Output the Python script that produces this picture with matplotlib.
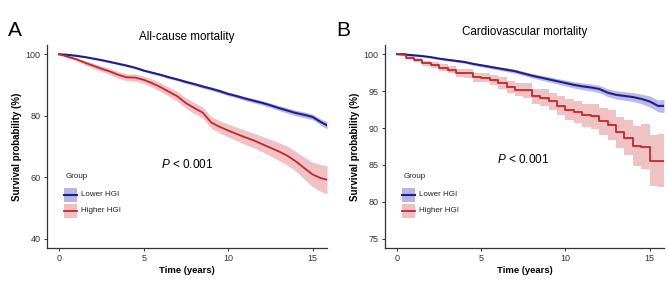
import matplotlib
matplotlib.use("Agg")
import matplotlib.pyplot as plt
from matplotlib.patches import Rectangle
from matplotlib.lines import Line2D
import numpy as np

plt.rcParams['font.family'] = ['Liberation Sans', 'DejaVu Sans']
plt.rcParams['mathtext.fontset'] = 'custom'
plt.rcParams['mathtext.it'] = 'Liberation Sans:italic'
plt.rcParams['mathtext.rm'] = 'Liberation Sans'

# ---------------- data ----------------
time = [0, 0.5, 1, 1.5, 2, 2.5, 3, 3.5, 4, 4.5, 5, 5.5, 6, 6.5, 7, 7.5, 8, 8.5,
        9, 9.5, 10, 10.5, 11, 11.5, 12, 12.5, 13, 13.5, 14, 14.5, 15, 15.5, 15.85]

# Panel A: all-cause mortality
a_lower = [100, 99.8, 99.5, 99.1, 98.6, 98.1, 97.5, 96.9, 96.3, 95.6, 94.7, 94.0, 93.3,
           92.5, 91.8, 91.0, 90.3, 89.5, 88.8, 88.0, 87.1, 86.4, 85.6, 84.9, 84.2, 83.4,
           82.5, 81.7, 80.9, 80.3, 79.6, 77.9, 76.9]
a_lower_lo = [100, 99.6, 99.3, 98.9, 98.4, 97.85, 97.25, 96.6, 96.0, 95.25, 94.35, 93.6, 92.9,
              92.05, 91.35, 90.5, 89.8, 88.95, 88.25, 87.4, 86.55, 85.8, 84.95, 84.2, 83.5,
              82.65, 81.7, 80.85, 80.0, 79.35, 78.7, 76.9, 75.7]
a_lower_hi = [100, 100, 99.7, 99.3, 98.8, 98.35, 97.75, 97.2, 96.6, 95.95, 95.05, 94.4, 93.7,
              92.95, 92.25, 91.5, 90.8, 90.05, 89.35, 88.6, 87.65, 87.0, 86.25, 85.6, 84.9,
              84.15, 83.3, 82.55, 81.8, 81.25, 80.5, 78.9, 78.1]
a_higher = [100, 99.2, 98.4, 97.3, 96.3, 95.3, 94.4, 93.3, 92.5, 92.4, 91.7, 90.6, 89.3, 87.8,
            86.3, 84.1, 82.5, 81.0, 77.8, 76.4, 75.2, 74.1, 73.0, 72.0, 70.8, 69.6, 68.4,
            67.0, 65.2, 63.0, 60.9, 59.7, 59.2]
a_higher_lo = [100, 98.8, 97.9, 96.6, 95.5, 94.4, 93.4, 92.2, 91.4, 91.2, 90.5, 89.3, 87.9,
               86.3, 84.7, 82.4, 80.7, 79.2, 75.9, 74.4, 73.1, 71.9, 70.7, 69.6, 68.3, 66.9,
               65.5, 63.9, 62.0, 59.4, 56.9, 55.3, 54.6]
a_higher_hi = [100, 99.6, 98.9, 98.0, 97.1, 96.2, 95.4, 94.4, 93.6, 93.6, 92.9, 91.9, 90.7,
               89.3, 87.9, 85.8, 84.3, 82.8, 79.7, 78.4, 77.3, 76.3, 75.3, 74.4, 73.3, 72.3,
               71.3, 70.1, 68.4, 66.6, 64.9, 64.1, 63.8]

# Panel B: cardiovascular mortality
b_lower = [100, 99.95, 99.85, 99.75, 99.6, 99.4, 99.25, 99.1, 98.95, 98.7, 98.5, 98.3, 98.1,
           97.9, 97.7, 97.4, 97.1, 96.85, 96.6, 96.35, 96.1, 95.85, 95.65, 95.5, 95.3, 94.8,
           94.5, 94.35, 94.2, 93.95, 93.6, 93.0, 93.0]
b_lower_lo = [100, 99.9, 99.75, 99.65, 99.5, 99.28, 99.1, 98.94, 98.78, 98.52, 98.3, 98.08,
              97.86, 97.65, 97.43, 97.12, 96.8, 96.52, 96.25, 95.97, 95.7, 95.42, 95.2, 95.02,
              94.8, 94.27, 93.95, 93.77, 93.6, 93.3, 92.85, 92.2, 92.1]
b_lower_hi = [100, 100, 99.95, 99.85, 99.7, 99.52, 99.4, 99.26, 99.12, 98.88, 98.7, 98.52,
              98.34, 98.15, 97.97, 97.68, 97.4, 97.18, 96.95, 96.73, 96.5, 96.28, 96.1, 95.98,
              95.8, 95.33, 95.05, 94.93, 94.8, 94.6, 94.35, 93.8, 93.9]
b_higher = [100, 99.5, 99.2, 98.8, 98.5, 98.2, 97.9, 97.4, 97.4, 96.9, 96.8, 96.5, 96.1, 95.6,
            95.2, 95.1, 94.3, 94.1, 93.6, 93.0, 92.5, 92.15, 91.7, 91.6, 90.9, 90.4, 89.4,
            88.7, 87.6, 87.5, 85.6, 85.6, 85.6]
b_higher_lo = [100, 99.3, 98.9, 98.45, 98.1, 97.75, 97.4, 96.85, 96.82, 96.3, 96.2, 95.82,
               95.35, 94.8, 94.3, 94.12, 93.25, 92.97, 92.4, 91.7, 91.05, 90.62, 90.1, 89.9,
               89.05, 88.4, 87.3, 86.3, 84.9, 84.4, 82.2, 82.0, 82.0]
b_higher_hi = [100, 99.7, 99.5, 99.15, 98.9, 98.65, 98.4, 97.95, 97.98, 97.5, 97.4, 97.18,
               96.85, 96.4, 96.1, 96.08, 95.35, 95.23, 94.8, 94.3, 93.95, 93.68, 93.3, 93.3,
               92.75, 92.4, 91.5, 91.1, 90.3, 90.6, 89.0, 89.2, 89.2]

groups = ["Lower HGI", "Higher HGI"]
x_ticks = [0, 5, 10, 15]
a_yticks = [40, 60, 80, 100]
b_yticks = [75, 80, 85, 90, 95, 100]

# ---------------- style ----------------
blue_line = "#1E1E8C"
blue_fill = "#A9A9DE"
red_line = "#C4262B"
red_fill = "#EBB3B6"
W, H = 669, 290

fig = plt.figure(figsize=(6.69, 2.9), dpi=100)
axA = fig.add_axes([47/W, 42/H, 280/W, 203/H])
axB = fig.add_axes([385/W, 42/H, 279/W, 203/H])


def fx(px):
    return px / W


def fy(py):
    return 1 - py / H


def style_axis(ax, yticks, ylim):
    ax.set_xlim(-0.72, 15.85)
    ax.set_ylim(*ylim)
    ax.set_xticks(x_ticks)
    ax.set_yticks(yticks)
    for s in ["top", "right"]:
        ax.spines[s].set_visible(False)
    for s in ["left", "bottom"]:
        ax.spines[s].set_linewidth(0.9)
        ax.spines[s].set_color("#333333")
    ax.tick_params(axis="both", length=2.5, width=0.7, color="#333333",
                   labelsize=6.5, labelcolor="#333333", pad=2)
    ax.set_xlabel("Time (years)", fontsize=6.8, fontweight="bold", labelpad=2)
    ax.set_ylabel("Survival probability (%)", fontsize=7, fontweight="bold", labelpad=3)


def legend(x0):
    # manual ggplot-style legend, x0 = left of key boxes in figure pixels
    fig.text(fx(x0 + 2), fy(177), "Group", fontsize=5.8, ha="left", va="center",
             color="#222222")
    for i, (name, fc, lc, lw) in enumerate(zip(groups, [blue_fill, red_fill],
                                               [blue_line, red_line], [1.5, 1.3])):
        top = 188 + i * 15.5
        fig.add_artist(Rectangle((fx(x0), fy(top + 14)), fx(13), 14 / H,
                                 transform=fig.transFigure, facecolor=fc,
                                 edgecolor="none", alpha=0.85))
        fig.add_artist(Line2D([fx(x0), fx(x0 + 13)], [fy(top + 7), fy(top + 7)],
                              transform=fig.transFigure, color=lc, lw=lw))
        fig.text(fx(x0 + 17), fy(top + 7), name, fontsize=5.8, ha="left",
                 va="center", color="#222222")


def draw(ax, lo, lo_lo, lo_hi, hi, hi_lo, hi_hi, step):
    ds = "steps-post" if step else "default"
    st = "post" if step else None
    ax.fill_between(time, lo_lo, lo_hi, color=blue_fill, alpha=0.8, lw=0)
    ax.fill_between(time, hi_lo, hi_hi, color=red_fill, alpha=0.8, lw=0, step=st)
    ax.plot(time, lo, color=blue_line, lw=1.5)
    ax.plot(time, hi, color=red_line, lw=1.3, drawstyle=ds)


draw(axA, a_lower, a_lower_lo, a_lower_hi, a_higher, a_higher_lo, a_higher_hi, False)
style_axis(axA, a_yticks, (37, 103))
axA.set_title("All-cause mortality", fontsize=8.4, pad=3.8)
axA.text(7.56, 64.2, "$P$ < 0.001", fontsize=8.5, ha="center", va="center")
legend(64)

draw(axB, b_lower, b_lower_lo, b_lower_hi, b_higher, b_higher_lo, b_higher_hi, True)
style_axis(axB, b_yticks, (73.75, 101.25))
axB.set_title("Cardiovascular mortality", fontsize=8.4, pad=7.5)
axB.text(7.48, 85.8, "$P$ < 0.001", fontsize=8.5, ha="center", va="center")
legend(402)

fig.text(8/W, 1 - 30/H, "A", fontsize=15, ha="left", va="center")
fig.text(336/W, 1 - 30/H, "B", fontsize=15, ha="left", va="center")

fig.savefig("out.png", dpi=100)
